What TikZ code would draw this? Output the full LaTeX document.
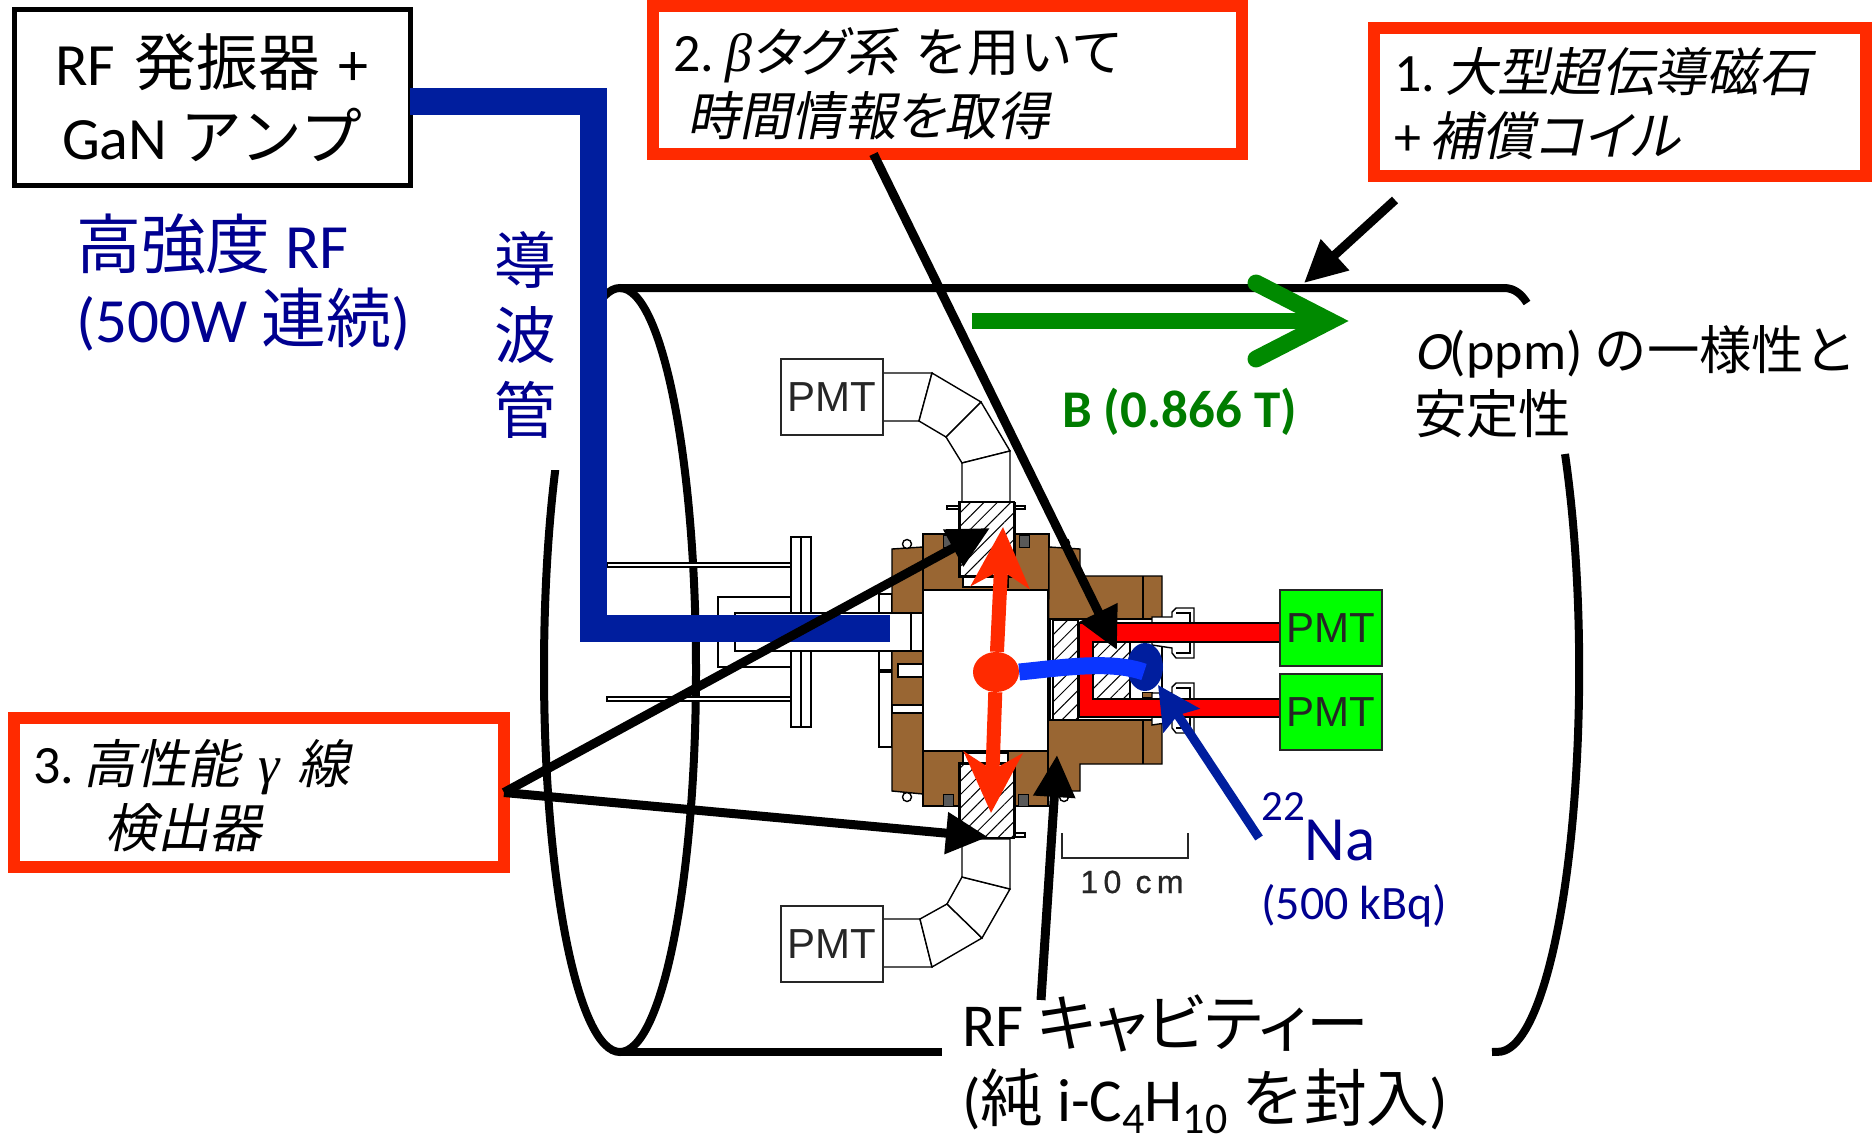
\documentclass[tikz,border=0pt]{standalone}
\usepackage{fontspec}
\setmainfont{Carlito}
\newfontfamily\jp[Scale=1.03]{Noto Sans CJK JP}
\newfontfamily\jpt[Scale=0.97]{Noto Sans CJK JP}
\newfontfamily\jpk[Scale=1.03,RawFeature=+palt]{Noto Sans CJK JP}
\newfontfamily\jpit[Scale=0.97,FakeSlant=0.2,RawFeature=+palt]{Noto Sans CJK JP}
\newfontfamily\latit[FakeSlant=0.2]{Carlito}
\newfontfamily\grk{Liberation Serif}
\newfontfamily\pmtfont{Liberation Sans}
\newfontfamily\scalefont[FakeBold=0.8]{Liberation Sans}
\usetikzlibrary{arrows.meta, positioning, patterns.meta, shapes.geometric}
\definecolor{boxred}{HTML}{FF2A00}
\definecolor{rodred}{HTML}{FF0000}
\definecolor{wave}{HTML}{001E9E}
\definecolor{navy}{HTML}{000090}
\definecolor{brass}{HTML}{996633}
\definecolor{bfield}{HTML}{008A00}
\definecolor{pmtgreen}{HTML}{00FF00}
\definecolor{betablue}{HTML}{0B36FF}
\newcommand{\upnum}[1]{\raisebox{0.62em}{\fontsize{43}{43}\selectfont #1}}
\newcommand{\dnnum}[1]{\raisebox{-0.2em}{\fontsize{44}{44}\selectfont #1}}
\AtBeginDocument{\frenchspacing}
\begin{document}
\begin{tikzpicture}[
    x=1pt, y=-1pt,
    redbox/.style={rectangle, draw=boxred, line width=12pt, fill=white, anchor=north west, outer sep=0pt, inner xsep=20pt, inner ysep=0pt, align=left, font=\fontsize{54}{64}\selectfont},
    label/.style={anchor=base west, inner sep=0pt, align=left, font=\fontsize{54}{64}\selectfont},
    bluelabel/.style={label, text=navy, font=\fontsize{63}{74}\selectfont},
    pmtbox/.style={rectangle, draw=black!85, line width=1.5pt, fill=white, anchor=north west, outer sep=0pt, inner sep=0pt, minimum width=102pt, minimum height=76pt, text=black!85, font=\pmtfont\fontsize{42}{42}\selectfont},
    callout/.style={-{Stealth[length=42pt,width=40pt,inset=0pt]}, line width=9pt},
    gammaray/.style={-{Stealth[length=60pt,width=58pt,inset=17pt]}, draw=boxred, line width=14pt},
    part/.style={draw=black, line width=1.4pt, fill=white},
    brasspart/.style={part, fill=brass},
    hatched/.style={part, preaction={fill=white}, pattern={Lines[angle=45,distance=9.5pt,line width=1pt]}},
    magnet/.style={draw=black, line width=8pt}
]
\useasboundingbox (0,0) rectangle (1873,1137);
\draw[magnet] (620,670) ellipse [x radius=76pt, y radius=382pt];
\draw[magnet] (620,288) -- (1504,288) .. controls (1515,288) and (1522,295) .. (1527,303);
\draw[magnet] (620,1052) -- (942,1052);
\draw[magnet] (1565,454) arc [start angle=34.4, end angle=-90, x radius=81pt, y radius=382pt] -- (1492,1052);
\node[bluelabel, anchor=center, fill=white, align=center, minimum width=112pt, minimum height=270pt, font=\jp\fontsize{60}{75}\selectfont] (guidelabel) at (525,335) {導\\波\\管};
% flange and port
\draw[part] (607,563) rectangle (791,567);
\draw[part] (607,697) rectangle (791,701);
\draw[part] (718,597) rectangle (791,667);
\draw[part] (791,537) rectangle (801,727);
\draw[part] (801,537) rectangle (811,727);
\draw[part] (879,594) rectangle (892,670);
\draw[part] (879,672) rectangle (892,747);
% cavity body
\draw[brasspart] (892,549) -- (923,547) -- (923,794) -- (892,791) -- cycle;
\draw[brasspart] (923,534) rectangle (1049,590);
\draw[brasspart] (923,751) rectangle (1048,806);
\draw[brasspart] (1049,547) -- (1080,549) -- (1080,576) -- (1162,576) -- (1162,764) -- (1080,764) -- (1080,791) -- (1048,791) -- cycle;
\draw[black, line width=1.4pt] (1143,576) -- (1143,619) (1143,720) -- (1143,764);
\draw[part] (923,590) rectangle (1048,751);
\draw[part] (735,613) rectangle (911,651);
\draw[part] (911,613) rectangle (923,651);
\draw[part] (898,664) rectangle (923,677);
\draw[part] (892,705) rectangle (923,713);
\foreach \cx/\cy in {907/544, 1065/543, 907/797, 1064/797}
    \draw[part] (\cx,\cy) circle [radius=4.5pt];
\foreach \rx/\ry in {943/535, 1019/535, 943/794, 1018/794}
    \draw[draw=black, fill=black!65, line width=1pt] (\rx,\ry) rectangle ++(10,12);
% gamma detectors and light guides
\draw[part] (947,506) rectangle (1025,509);
\draw[part] (963,576) rectangle (1008,587);
\draw[part] (963,753) rectangle (1008,763);
\draw[part] (1013,833) rectangle (1025,837);
\draw[part] (882,373) -- (932,373) -- (919,421) -- (882,421) -- cycle;
\draw[part] (932,373) -- (981,402) -- (946,437) -- (919,421) -- cycle;
\draw[part] (981,402) -- (1010,451) -- (962,463) -- (946,437) -- cycle;
\draw[part] (1010,451) -- (1010,502) -- (962,502) -- (962,463) -- cycle;
\draw[part] (882,919) -- (920,919) -- (932,967) -- (882,967) -- cycle;
\draw[part] (920,919) -- (947,904) -- (982,938) -- (932,967) -- cycle;
\draw[part] (947,904) -- (962,877) -- (1010,889) -- (982,938) -- cycle;
\draw[part] (962,877) -- (962,839) -- (1010,839) -- (1010,889) -- cycle;
\draw[hatched] (959,502) rectangle (1014,576);
\draw[black, line width=3pt] (959,502) -- (959,576) -- (1014,576) -- (1014,502);
\draw[hatched] (959,763) rectangle (1014,838);
\draw[black, line width=3pt] (959,838) -- (959,763) -- (1014,763) -- (1014,838);
% beta detector
\draw[part] (1050,619) rectangle (1162,720);
\draw[hatched] (1053,620) rectangle (1078,720);
\draw[hatched] (1093,642) rectangle (1130,699);
\draw[brasspart, line width=0pt] (1142,692) rectangle (1152,697);
\draw[part] (1152,617) -- (1172,617) -- (1172,612) -- (1176,608) -- (1194,608) -- (1194,658) -- (1176,658) -- (1172,653) -- (1172,648) -- (1152,645) -- cycle;
\draw[part] (1152,693) -- (1172,693) -- (1172,687) -- (1176,683) -- (1194,683) -- (1194,733) -- (1176,733) -- (1172,728) -- (1172,722) -- (1152,725) -- cycle;
\draw[part] (1176,613) -- (1190,613) -- (1190,653) -- (1176,653);
\draw[part] (1176,688) -- (1190,688) -- (1190,728) -- (1176,728);
\draw[part, fill=rodred] (1079,623) -- (1280,623) -- (1280,642) -- (1093,642) -- (1093,699) -- (1280,699) -- (1280,717) -- (1079,717) -- cycle;
% boxes
\node[pmtbox] (pmttop) at (781,359) {PMT};
\node[pmtbox] (pmtbot) at (781,906) {PMT};
\node[pmtbox, fill=pmtgreen] (pmtrighta) at (1280,590) {PMT};
\node[pmtbox, fill=pmtgreen, below=8pt of pmtrighta] (pmtrightb) {PMT};
\node[rectangle, draw=black, line width=5pt, fill=white, anchor=north west, outer sep=0pt, inner sep=0pt, minimum width=396pt, minimum height=175pt, align=center, font=\fontsize{60}{74}\selectfont] (rfbox) at (14,10) {RF\hspace{19pt}{\jp 発振器}\hspace{19pt}+\\GaN {\jp アンプ}};
\node[redbox, text width=452pt, minimum height=148pt] (magbox) at (1374,28) {\rule{0pt}{48pt}1.\hspace{10pt}{\jpit 大型超伝導磁石}\\+\hspace{9pt}{\jpit 補償コイル}};
\node[redbox, text width=549pt, minimum height=148pt] (betabox) at (653,6) {\rule{0pt}{52pt}2.\hspace{11pt}{\grk\itshape β}{\jpit タグ系} {\jpt を用いて}\\\hspace{14pt}{\jpit 時間情報を取得}};
\node[redbox, inner xsep=19pt, text width=452pt, minimum height=149pt] (gammabox) at (14,718) {\rule{0pt}{50pt}3.\hspace{9pt}{\jpit 高性能} {\grk\itshape γ} {\jpit 線}\\\hspace{72pt}{\jpit 検出器}};
% waveguide
\draw[draw=wave, line width=27pt] ([yshift=-4.5pt]rfbox.east) -- (593,102) -- (593,628) -- (890,628);
% labels
\node[bluelabel] (rflabel) at (76,342) {{\jp 高強度} RF\\(500W {\jp 連続})};
\node[label, text=bfield!90!black, font=\bfseries\fontsize{53}{60}\selectfont] (blabel) at (1062,427) {B (0.866 T)};
\node[label] (unilabel) at (1414,433) {{\latit O}(ppm) {\jpt の一様性と}\\{\jpt 安定性}};
\node[label, font=\fontsize{61}{75}\selectfont] (cavlabel) at (962,1121) {RF {\jpk キャビティー}\\({\jp 純} i-C\dnnum{4}H\dnnum{10} {\jp を封入})};
\node[bluelabel] (nalabel) at (1261,860) {\upnum{22}Na};
\node[label, text=navy, font=\fontsize{48}{50}\selectfont] (srclabel) at (1261,919) {(500 kBq)};
\node[label, text=black!85, font=\scalefont\fontsize{32}{32}\selectfont, anchor=base] (scalelabel) at (1132,893) {1\,0\, c\,m};
\draw[black!85, line width=2pt] (1062,833) -- (1062,858) -- (1188,858) -- (1188,833);
% field and decay
\coordinate (bstart) at (972,321);
\coordinate (btip) at (1342,321);
\draw[draw=bfield, line width=16pt] (bstart) -- (1325,321);
\draw[draw=bfield, line width=17pt, line cap=round, miter limit=20] (1256,283) -- (1330,321) -- (1256,359);
\node[ellipse, fill=boxred, minimum width=46pt, minimum height=40pt, inner sep=0pt] (decay) at (996,672) {};
\node[ellipse, fill=wave, minimum width=36pt, minimum height=48pt, inner sep=0pt] (source) at (1145,667) {};
\draw[draw=betablue, line width=17pt] (decay.east) .. controls (1060,668) and (1110,660) .. (1144,672);
\coordinate (uptip) at (1003,527);
\coordinate (downtip) at (991,813);
\draw[gammaray] (decay) -- (uptip);
\draw[gammaray] (decay) -- (downtip);
% callouts
\coordinate (magstart) at (1395,200);
\coordinate (magtip) at (1304,283);
\coordinate (betatip) at (1117,650);
\coordinate (gammatipa) at (990,528);
\coordinate (gammatipb) at (988,837);
\coordinate (cavstart) at (1041,1000);
\coordinate (cavtip) at (1057,755);
\coordinate (nastart) at (1259,838);
\coordinate (natip) at (1158,685);
\draw[callout] (magstart) -- (magtip);
\draw[callout] (betabox.225) -- (betatip);
\draw[callout] (gammabox.east) -- (gammatipa);
\draw[callout] (gammabox.east) -- (gammatipb);
\draw[callout] (cavstart) -- (cavtip);
\draw[callout, draw=wave, fill=wave, -{Stealth[length=42pt,width=42pt,inset=6pt]}] (nastart) -- (natip);
\end{tikzpicture}
\end{document}
